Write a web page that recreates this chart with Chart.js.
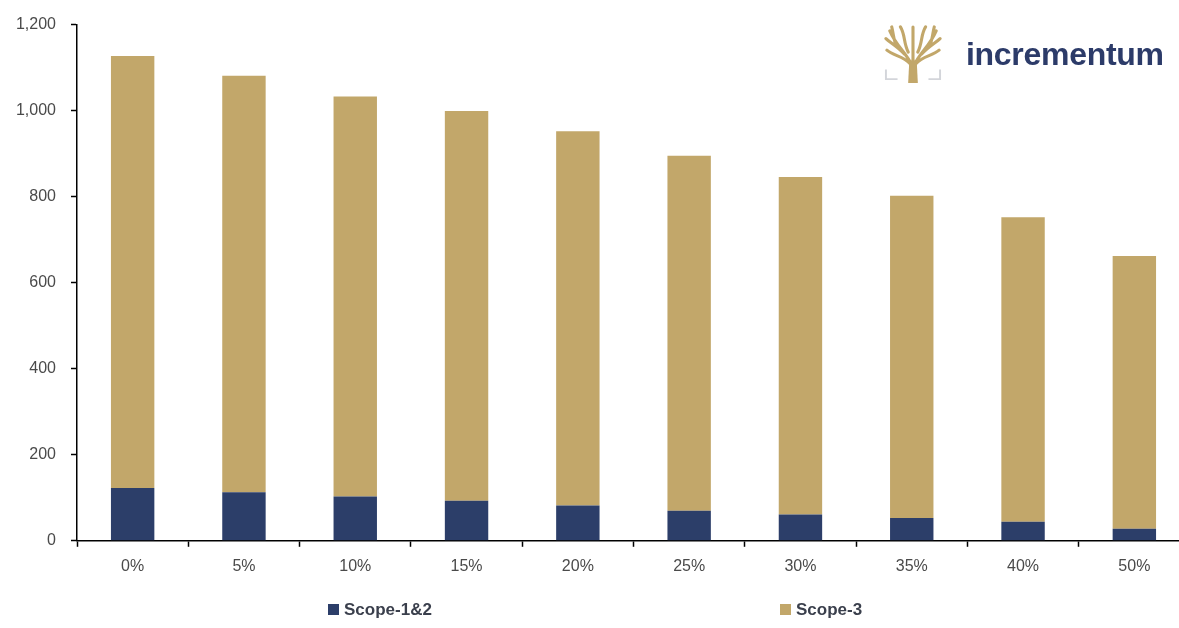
<!DOCTYPE html>
<html lang="en">
<head>
  <meta charset="UTF-8">
  <title>Scope emissions</title>
  <script src="https://cdn.jsdelivr.net/npm/chart.js"></script>
  <style>
    html, body { margin: 0; padding: 0; background: #fff; overflow: hidden; }
    body { width: 1179px; height: 628px; position: relative; font-family: 'Liberation Sans', Arial, sans-serif; }
    .wrap { position: absolute; left: 0; top: 0; width: 1190px; height: 628px; }
    .logo { position: absolute; left: 884px; top: 25px; width: 58px; height: 58px; }
    .brand { position: absolute; left: 966px; top: 36px; font-size: 32px; font-weight: bold; color: #2c3b69; letter-spacing: -0.3px; }
    .legend { position: absolute; top: 600px; font-size: 17px; font-weight: bold; color: #3a3f4c; }
    .legend span.box { display: inline-block; width: 11px; height: 11px; margin-right: 5px; vertical-align: 0px; }
  </style>
</head>
<body>
  <div class="wrap"><canvas id="chart"></canvas></div>

  <svg class="logo" viewBox="0 0 60 60">
    <path d="M2 46 v10 h12 M58 46 v10 h-12" stroke="#d3d5da" stroke-width="2" fill="none"/>
    <path d="M27 40 C20 32 10 32 3 26 M27 38 C20 26 12 20 6 6 M30 36 L30 2 M33 38 C40 26 48 20 54 6 M33 40 C40 32 50 32 57 26 M21 30 C14 22 6 18 2 14 M39 30 C46 22 54 18 58 14 M25 28 C20 18 22 10 17 2 M35 28 C40 18 38 10 43 2 M13 22 C10 16 10 10 8 2 M47 22 C50 16 50 10 52 2"
          stroke="#c2a76a" stroke-width="3.2" fill="none" stroke-linecap="round"/>
    <path d="M25 60 L26 40 L30 34 L34 40 L35 60 Z" fill="#c2a76a"/>
  </svg>
  <div class="brand">incrementum</div>

  <div class="legend" style="left:328px"><span class="box" style="background:#2c3e69"></span>Scope-1&amp;2</div>
  <div class="legend" style="left:780px"><span class="box" style="background:#c2a76a"></span>Scope-3</div>

  <script>
    const categories = ['0%', '5%', '10%', '15%', '20%', '25%', '30%', '35%', '40%', '50%'];
    const scope12 = [123, 113, 103, 93, 82, 70, 61, 53, 44, 28];
    const scope3 = [1004, 968, 930, 906, 870, 825, 785, 749, 708, 634];
    const yTicks = [0, 200, 400, 600, 800, 1000, 1200];

    const navy = '#2c3e69';
    const gold = '#c2a76a';

    new Chart(document.getElementById('chart'), {
      type: 'bar',
      data: {
        labels: categories,
        datasets: [
          { label: 'Scope-1&2', data: scope12, backgroundColor: navy, categoryPercentage: 1, barPercentage: 0.39 },
          { label: 'Scope-3', data: scope3, backgroundColor: gold, categoryPercentage: 1, barPercentage: 0.39 }
        ]
      },
      options: {
        responsive: true,
        maintainAspectRatio: false,
        animation: false,
        layout: { padding: { top: 10, right: 0, bottom: 42, left: 0 } },
        plugins: { legend: { display: false }, tooltip: { enabled: false } },
        scales: {
          x: {
            stacked: true,
            grid: { offset: true, drawOnChartArea: false, tickLength: 6, color: '#000', tickWidth: 1.5 },
            border: { color: '#000', width: 1.5 },
            ticks: { color: '#4a4a4a', font: { family: "'Liberation Sans', Arial, sans-serif", size: 16 }, padding: 10 }
          },
          y: {
            stacked: true,
            min: 0,
            max: 1200,
            afterFit: (scale) => { scale.width = 77; },
            afterBuildTicks: (scale) => { scale.ticks = yTicks.map(v => ({ value: v })); },
            grid: { drawOnChartArea: false, tickLength: 6, color: '#000', tickWidth: 1.5 },
            border: { color: '#000', width: 1.5 },
            ticks: {
              color: '#4a4a4a',
              padding: 15,
              font: { family: "'Liberation Sans', Arial, sans-serif", size: 16 },
              callback: (v) => v.toLocaleString('en-US')
            }
          }
        }
      }
    });
  </script>
</body>
</html>
